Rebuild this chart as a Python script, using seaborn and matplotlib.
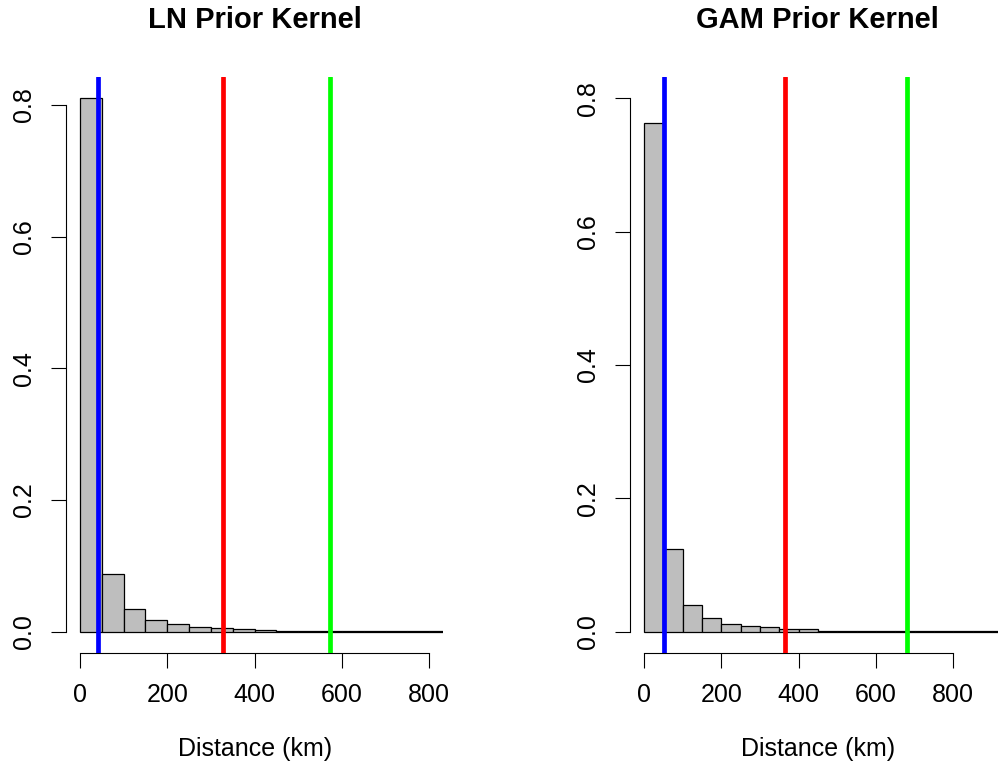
import numpy as np
import pandas as pd
import seaborn as sns
import matplotlib
matplotlib.use("Agg")
import matplotlib.pyplot as plt
from matplotlib.ticker import FormatStrFormatter

# Relative frequencies of the two prior kernels in 50 km bins starting at 0 km
bin_width = 50
ln_freq = [0.81, 0.087, 0.034, 0.0175, 0.012, 0.0075, 0.0055, 0.0035, 0.003,
           0.0014, 0.0012, 0.0011, 0.001, 0.0009, 0.0009, 0.0008, 0.0008,
           0.0007, 0.0007]
gam_freq = [0.7635, 0.124, 0.0405, 0.021, 0.012, 0.008, 0.0065, 0.0045, 0.004,
            0.0016, 0.0014, 0.0012, 0.0011, 0.001, 0.0009, 0.0009, 0.0008,
            0.0008, 0.0007, 0.0007]

# Reference distances drawn as vertical lines (km)
ln_lines = {"blue": 41, "red": 327, "lime": 572}
gam_lines = {"blue": 52, "red": 364, "lime": 681}

titles = ["LN Prior Kernel", "GAM Prior Kernel"]
x_ticks = [0, 200, 400, 600, 800]
y_ticks = [0.0, 0.2, 0.4, 0.6, 0.8]

sns.set_style("white")
plt.rcParams["font.family"] = ["Liberation Sans", "DejaVu Sans"]
for key in ["text.color", "axes.labelcolor", "xtick.color", "ytick.color"]:
    plt.rcParams[key] = "black"

W, H = 998, 765
fig = plt.figure(figsize=(W / 100, H / 100), dpi=100)

panels = [
    dict(freq=ln_freq, lines=ln_lines, title=titles[0],
         left=66, scale=377.3 / 864, xlim=(-32, 832), ylim=(-0.0324, 0.8424)),
    dict(freq=gam_freq, lines=gam_lines, title=titles[1],
         left=630, scale=0.3867, xlim=(-36, 936), ylim=(-0.032, 0.832)),
]

label_size = 18
top_px, bottom_px = 77, 653
for p in panels:
    span = p["xlim"][1] - p["xlim"][0]
    width_px = span * p["scale"]
    ax = fig.add_axes([p["left"] / W, (H - bottom_px) / H,
                       width_px / W, (bottom_px - top_px) / H])

    n = len(p["freq"])
    edges = [float(i * bin_width) for i in range(n + 1)]
    centers = [e + bin_width / 2 for e in edges[:-1]]
    df = pd.DataFrame({"distance": centers, "freq": p["freq"]})
    sns.histplot(data=df, x="distance", weights="freq", bins=edges, ax=ax,
                 stat="count", color="#BEBEBE", edgecolor="black",
                 linewidth=0.9, alpha=1)

    for col, xv in p["lines"].items():
        ax.axvline(xv, color=col, linewidth=3.4, zorder=3)

    ax.set_xlim(*p["xlim"])
    ax.set_ylim(*p["ylim"])
    ax.set_xticks(x_ticks)
    ax.set_yticks(y_ticks)
    ax.yaxis.set_major_formatter(FormatStrFormatter("%.1f"))

    for s in ["top", "right"]:
        ax.spines[s].set_visible(False)
    for s in ["left", "bottom"]:
        ax.spines[s].set_color("black")
        ax.spines[s].set_linewidth(0.8)
    ax.spines["left"].set_bounds(0, 0.8)
    ax.spines["bottom"].set_bounds(0, 800)

    ax.tick_params(axis="both", direction="out", length=10.8, width=0.8,
                   color="black", labelcolor="black", labelsize=label_size,
                   pad=11, left=True, bottom=True)
    for lab in ax.get_yticklabels():
        lab.set_rotation(90)
        lab.set_va("center")

    ax.set_ylabel("")
    ax.set_xlabel("Distance (km)", fontsize=label_size)
    ax.xaxis.label.set_va("center")
    ax.xaxis.set_label_coords(0.5, (bottom_px - 749) / (bottom_px - top_px))

    ax.set_title(p["title"], fontsize=21, fontweight="bold",
                 y=(bottom_px - 20) / (bottom_px - top_px), va="center", pad=0)

fig.savefig("out.png", dpi=100)
